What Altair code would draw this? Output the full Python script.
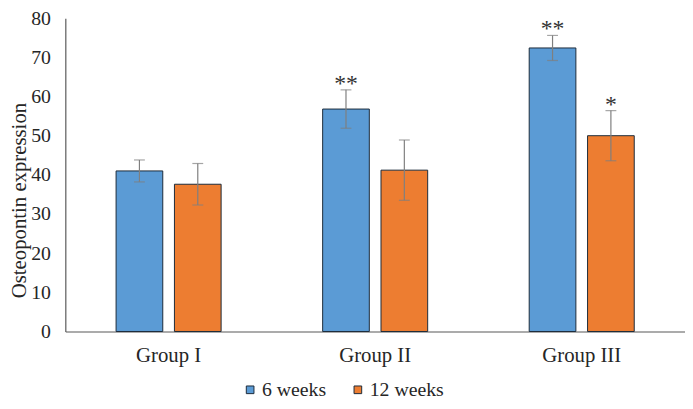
import altair as alt
import pandas as pd

groups = ["Group I", "Group II", "Group III"]
series = ["6 weeks", "12 weeks"]
six_weeks = [41.0, 56.8, 72.4]
six_err = [2.8, 4.9, 3.2]
twelve_weeks = [37.6, 41.2, 50.0]
twelve_err = [5.3, 7.7, 6.4]
six_marks = ["", "**", "**"]
twelve_marks = ["", "", "*"]
y_ticks = [0, 10, 20, 30, 40, 50, 60, 70, 80]

rows = []
for i, g in enumerate(groups):
    rows.append({"group": g, "series": series[0], "value": six_weeks[i], "err": six_err[i], "mark": six_marks[i]})
    rows.append({"group": g, "series": series[1], "value": twelve_weeks[i], "err": twelve_err[i], "mark": twelve_marks[i]})
df = pd.DataFrame(rows)
df["lo"] = df["value"] - df["err"]
df["hi"] = df["value"] + df["err"]

FONT = "Liberation Serif"
TXT = "#262626"

x = alt.X("group:N", sort=groups, title=None,
          scale=alt.Scale(paddingInner=0.435, paddingOuter=0.2175),
          axis=alt.Axis(labelAngle=0, ticks=False, labelFontSize=21, labelFont=FONT,
                        labelColor=TXT, labelPadding=13, domainColor="#595959", domainWidth=1.2))
xoff = alt.XOffset("series:N", sort=series,
                   scale=alt.Scale(domain=series, paddingInner=0.2, paddingOuter=0.1))

yscale = alt.Scale(domain=[0, 80])
yaxis = alt.Axis(values=y_ticks, ticks=False, grid=False, labelOverlap=False,
                 labelFontSize=20, labelFont=FONT, labelColor=TXT, labelPadding=15,
                 domainColor="#595959", domainWidth=1.2,
                 title="Osteopontin expression", titleFont=FONT, titleFontSize=21,
                 titleFontWeight="normal", titleColor=TXT,
                 titleX=-46, titleY=184, titleAngle=270, titleAlign="center",
                 titleBaseline="middle")

base = alt.Chart(df).encode(x=x, xOffset=xoff)

bars = base.mark_bar(stroke="#1c2b3a", strokeWidth=1).encode(
    y=alt.Y("value:Q", scale=yscale, axis=yaxis),
    fill=alt.Fill("series:N", sort=series,
                  scale=alt.Scale(domain=series, range=["#5B9BD5", "#ED7D31"]),
                  legend=alt.Legend(title=None, orient="none", legendX=177, legendY=366,
                                    direction="horizontal", columns=2, symbolType="square",
                                    symbolSize=60, symbolStrokeColor="#1c2b3a", symbolStrokeWidth=1,
                                    labelFont=FONT, labelFontSize=20, labelColor=TXT,
                                    labelOffset=2, columnPadding=22)),
)

rules = base.mark_rule(color="#7f7f7f", strokeWidth=1.2).encode(
    y=alt.Y("lo:Q", scale=yscale, axis=yaxis), y2="hi:Q")
caps_hi = base.mark_tick(color="#7f7f7f", size=11, thickness=1.2, orient="horizontal").encode(
    y=alt.Y("hi:Q", scale=yscale, axis=yaxis))
caps_lo = base.mark_tick(color="#7f7f7f", size=11, thickness=1.2, orient="horizontal").encode(
    y=alt.Y("lo:Q", scale=yscale, axis=yaxis))
stars = base.mark_text(font=FONT, fontSize=24, color="#333333", dy=1, baseline="alphabetic").encode(
    y=alt.Y("hi:Q", scale=yscale, axis=yaxis), text="mark:N")

chart = alt.layer(bars, rules, caps_hi, caps_lo, stars).properties(
    width=627, height=317,
    autosize=alt.AutoSizeParams(type="none"),
    padding={"left": 58, "top": 8, "right": 0, "bottom": 68},
).configure_view(stroke=None)

chart.save("out.html", embed_options={"renderer": "svg", "actions": False})
